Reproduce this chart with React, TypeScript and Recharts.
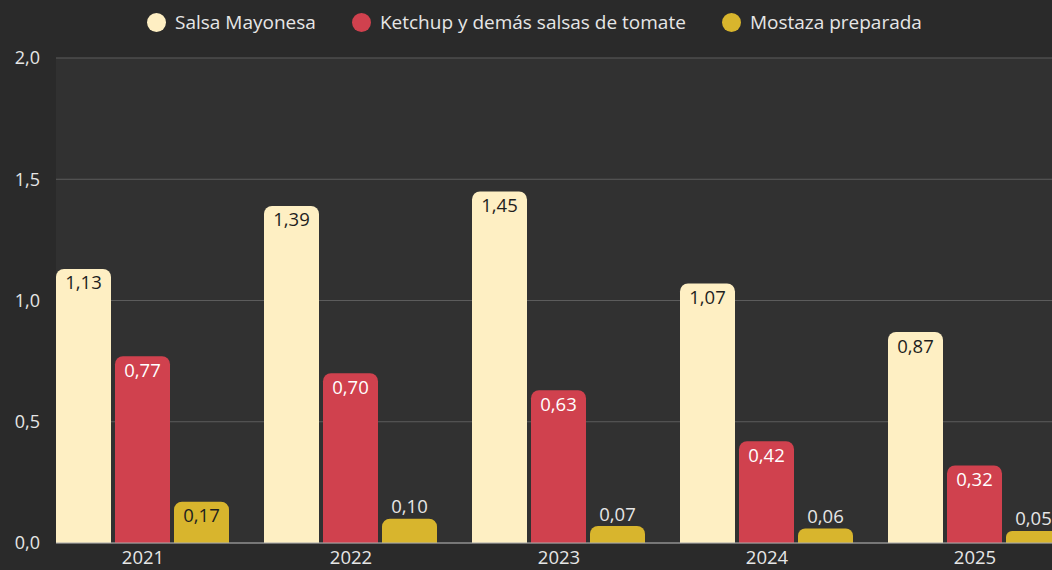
import { BarChart, Bar, XAxis, YAxis, CartesianGrid, Legend, LabelList } from 'recharts';

const years = ['2021', '2022', '2023', '2024', '2025'];
const mayonesa = [1.13, 1.39, 1.45, 1.07, 0.87];
const ketchup = [0.77, 0.70, 0.63, 0.42, 0.32];
const mostaza = [0.17, 0.10, 0.07, 0.06, 0.05];
const yTicks = [0, 0.5, 1, 1.5, 2];

const SERIES = [
    { key: 'mayonesa', name: 'Salsa Mayonesa', color: '#FEEFC3', text: '#1e1e1e' },
    { key: 'ketchup', name: 'Ketchup y demás salsas de tomate', color: '#D0414E', text: '#ffffff' },
    { key: 'mostaza', name: 'Mostaza preparada', color: '#D8B52D', text: '#1e1e1e' },
];

const data = years.map((year, i) => ({
    year,
    mayonesa: mayonesa[i],
    ketchup: ketchup[i],
    mostaza: mostaza[i],
}));

const FONT = "'Open Sans', 'Noto Sans', sans-serif";
const fmt = (v: number, d: number) => v.toFixed(d).replace('.', ',');

const makeLabel = (textColor: string) => (props: any) => {
    const { x, y, width, height, value } = props;
    const inside = height >= 30;
    return (
        <text
            x={x + width / 2}
            y={inside ? y + 13 : y - 13}
            textAnchor="middle"
            dominantBaseline="central"
            fill={inside ? textColor : '#e6e6e6'}
            fontSize={18.5}
            fontFamily={FONT}
        >
            {fmt(value, 2)}
        </text>
    );
};

const LegendContent = () => (
    <div style={{ display: 'flex', justifyContent: 'center', gap: 36, fontFamily: FONT, fontSize: 19, color: '#e6e6e6', paddingTop: 9 }}>
        {SERIES.map(s => (
            <div key={s.key} style={{ display: 'flex', alignItems: 'center', gap: 9 }}>
                <span style={{ width: 19, height: 19, borderRadius: '50%', background: s.color, display: 'inline-block' }} />
                <span>{s.name}</span>
            </div>
        ))}
    </div>
);

export default function App() {
    return (
        <div style={{ position: 'absolute', left: 0, top: 0, width: 1052, height: 570, overflow: 'hidden', background: '#2a2a2a' }}>
            <BarChart
                width={1079}
                height={570}
                data={data}
                margin={{ top: 0, right: 0, bottom: 0, left: 0 }}
                barCategoryGap={17}
                barGap={4}
            >
                <CartesianGrid vertical={false} stroke="#5c5c5c" fill="#313131" />
                <Legend verticalAlign="top" height={58} content={<LegendContent />} wrapperStyle={{ left: -5, width: 1079 }} />
                <XAxis
                    dataKey="year"
                    height={27}
                    padding={{ left: -17, right: 0 }}
                    axisLine={{ stroke: '#aaaaaa' }}
                    tickLine={false}
                    tick={{ fill: '#e6e6e6', fontSize: 18.5, fontFamily: FONT }}
                />
                <YAxis
                    width={56}
                    domain={[0, 2]}
                    ticks={yTicks}
                    axisLine={false}
                    tickLine={false}
                    tickMargin={10}
                    tickFormatter={(v: number) => fmt(v, 1)}
                    tick={{ fill: '#e6e6e6', fontSize: 18, fontFamily: FONT }}
                />
                {SERIES.map(s => (
                    <Bar key={s.key} dataKey={s.key} name={s.name} fill={s.color} radius={[8, 8, 0, 0]} isAnimationActive={false}>
                        <LabelList dataKey={s.key} content={makeLabel(s.text)} />
                    </Bar>
                ))}
            </BarChart>
        </div>
    );
}
